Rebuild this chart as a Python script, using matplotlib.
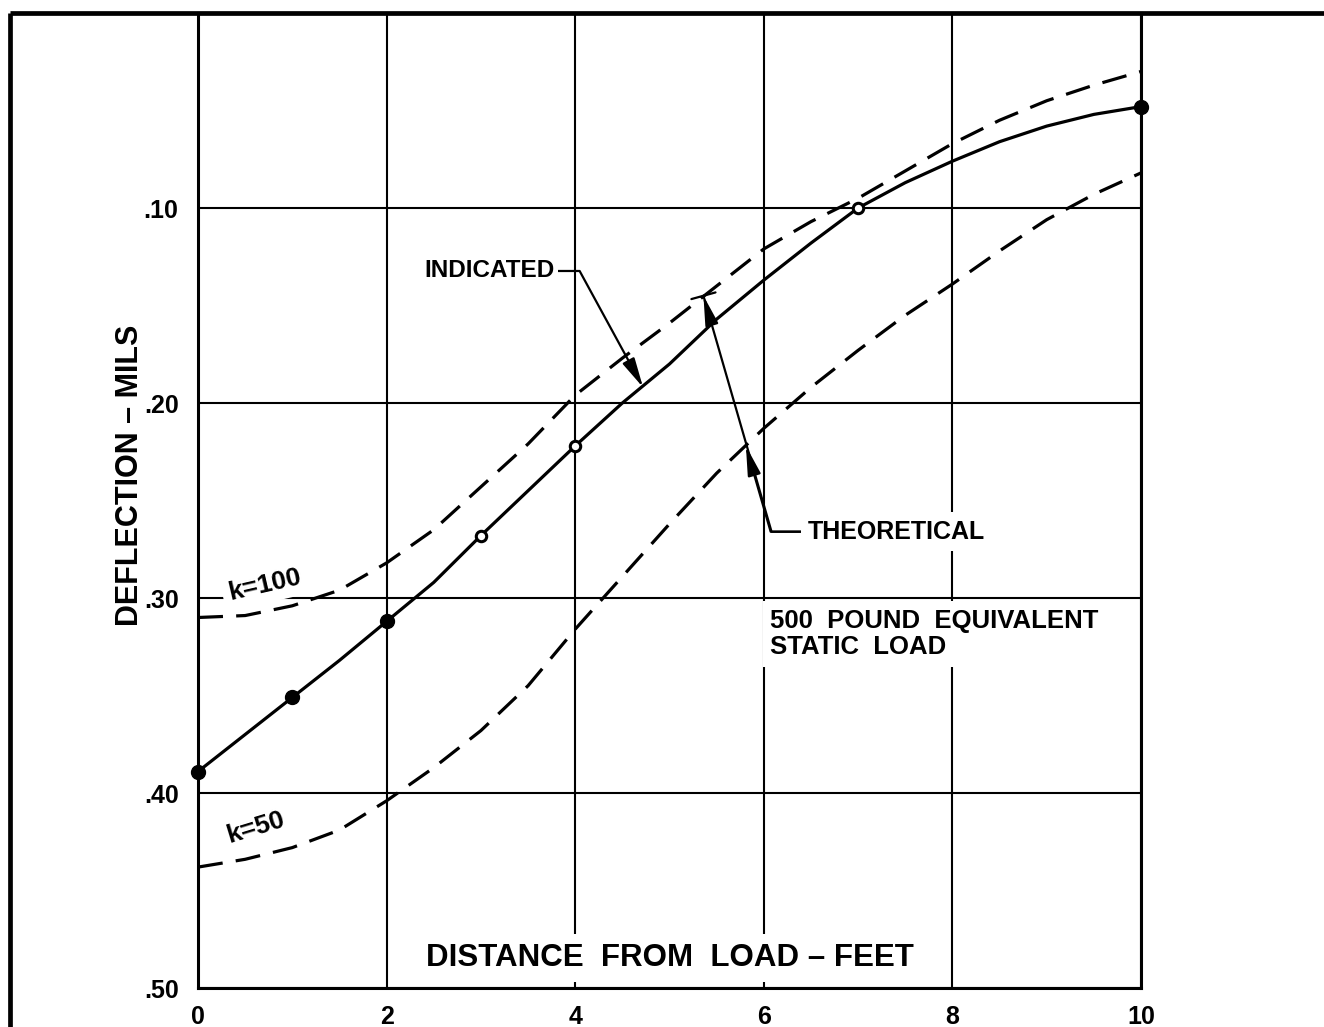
import matplotlib
matplotlib.use("Agg")
import matplotlib.pyplot as plt
from matplotlib.lines import Line2D

plt.rcParams["font.family"] = ["Liberation Sans", "DejaVu Sans"]
plt.rcParams["font.weight"] = "bold"
plt.rcParams["lines.scale_dashes"] = False

# ---- data -------------------------------------------------------------
distance_ft = [0, 0.5, 1, 1.5, 2, 2.5, 3, 3.5, 4, 4.5, 5,
               5.5, 6, 6.5, 7, 7.5, 8, 8.5, 9, 9.5, 10]

indicated = [0.389, 0.370, 0.351, 0.332, 0.312, 0.292, 0.268, 0.245, 0.222, 0.200, 0.180,
             0.157, 0.137, 0.118, 0.100, 0.087, 0.076, 0.066, 0.058, 0.052, 0.048]

theory_k100 = [0.310, 0.309, 0.304, 0.296, 0.282, 0.265, 0.243, 0.221, 0.196, 0.177, 0.159,
               0.140, 0.121, 0.107, 0.095, 0.081, 0.067, 0.055, 0.045, 0.037, 0.030]

theory_k50 = [0.438, 0.434, 0.428, 0.419, 0.404, 0.387, 0.368, 0.345, 0.316, 0.289, 0.262,
              0.236, 0.213, 0.192, 0.173, 0.155, 0.139, 0.122, 0.106, 0.093, 0.082]

measured_x_filled = [0, 1, 2, 10]
measured_y_filled = [0.389, 0.351, 0.312, 0.048]
measured_x_open = [3, 4, 7]
measured_y_open = [0.268, 0.222, 0.100]

x_ticks = [0, 2, 4, 6, 8, 10]
x_tick_labels = ["0", "2", "4", "6", "8", "10"]
y_ticks = [0.10, 0.20, 0.30, 0.40, 0.50]
y_tick_labels = [".10", ".20", ".30", ".40", ".50"]

# ---- figure -----------------------------------------------------------
W, H = 1324, 1027
fig = plt.figure(figsize=(W / 100, H / 100), dpi=100)
fig.patch.set_facecolor("white")

left, right, top, bottom = 198, 1141, 13, 988
ax = fig.add_axes([left / W, 1 - bottom / H, (right - left) / W, (bottom - top) / H])
ax.set_xlim(0, 10)
ax.set_ylim(0.5, 0.0)

# outer drawing border (top and left)
ytop = 1 - top / H
fig.add_artist(Line2D([10 / W, 1.0], [ytop, ytop], color="black", lw=3.4,
                      solid_capstyle="butt"))
fig.add_artist(Line2D([10 / W, 10 / W], [0, ytop], color="black", lw=3.4,
                      solid_capstyle="butt"))

# grid
ax.set_xticks(x_ticks)
ax.set_xticklabels(x_tick_labels)
ax.set_yticks(y_ticks)
ax.set_yticklabels(y_tick_labels)
ax.grid(True, color="black", lw=1.5, zorder=0.5)
ax.set_axisbelow(True)
ax.tick_params(length=0, labelsize=18, pad=14)
ax.tick_params(axis="x", pad=12)
for lab in ax.get_xticklabels() + ax.get_yticklabels():
    lab.set_fontweight("bold")
for side in ["left", "right", "bottom", "top"]:
    ax.spines[side].set_linewidth(2.2)

# curves
ax.plot(distance_ft, indicated, color="black", lw=2.3, zorder=3, clip_on=False)
ax.plot(distance_ft, theory_k100, color="black", lw=2.3, ls=(0, (18, 9.5)),
        zorder=3, clip_on=False)
ax.plot(distance_ft, theory_k50, color="black", lw=2.3, ls=(0, (18, 9.5)),
        zorder=3, clip_on=False)
ax.plot(measured_x_filled, measured_y_filled, ls="none", marker="o", ms=10,
        color="black", zorder=4, clip_on=False)
ax.plot(measured_x_open, measured_y_open, ls="none", marker="o", ms=7.5,
        mfc="white", mec="black", mew=2.2, zorder=4, clip_on=False)

white_box = dict(facecolor="white", edgecolor="none", boxstyle="square,pad=0.3")

# curve labels
ax.text(0.71, 0.293, "k=100", fontsize=19, rotation=13, ha="center", va="center",
        bbox=dict(facecolor="white", edgecolor="none", boxstyle="square,pad=0.25"),
        zorder=2)
ax.text(0.61, 0.418, "k=50", fontsize=19, rotation=17, ha="center", va="center",
        bbox=dict(facecolor="white", edgecolor="none", boxstyle="square,pad=0.05"),
        zorder=2)

arrow_kw = dict(arrowstyle="-|>,head_length=0.9,head_width=0.2", color="black",
                lw=1.6, mutation_scale=20, shrinkA=0, shrinkB=0)

ax.annotate("INDICATED", xy=(4.72, 0.192), xytext=(3.09, 0.1323),
            fontsize=17.5, ha="center", va="center", zorder=5,
            bbox=dict(facecolor="white", edgecolor="none", boxstyle="square,pad=0.15"),
            arrowprops=dict(connectionstyle="angle,angleA=0,angleB=118.6,rad=0",
                            relpos=(1, 0.5), **arrow_kw))

theo_conn = "angle,angleA=0,angleB=-73.9,rad=0"
ax.annotate("THEORETICAL", xy=(5.36, 0.145), xytext=(7.41, 0.266),
            fontsize=18, ha="center", va="center", zorder=5, bbox=white_box,
            arrowprops=dict(connectionstyle=theo_conn, relpos=(0, 0.5), **arrow_kw))
ax.annotate("THEORETICAL", xy=(5.81, 0.222), xytext=(7.41, 0.266),
            fontsize=18, ha="center", va="center", zorder=5, bbox=white_box,
            arrowprops=dict(connectionstyle=theo_conn, relpos=(0, 0.5), **arrow_kw))
# flat bar capping the leader at the k=100 curve
ax.annotate("", xy=(5.36, 0.145), xytext=(5.40, 0.152),
            arrowprops=dict(arrowstyle="-[,widthB=0.45,lengthB=0", color="black",
                            lw=1.6, mutation_scale=20, shrinkA=0, shrinkB=0))

ax.text(6.07, 0.3185, "500  POUND  EQUIVALENT  \nSTATIC  LOAD", fontsize=18.5,
        ha="left", va="center", multialignment="left", linespacing=1.15,
        bbox=dict(facecolor="white", edgecolor="none", boxstyle="square,pad=0.3"),
        zorder=2)

ax.text(5.0, 0.4846, "DISTANCE  FROM  LOAD – FEET", fontsize=22.5,
        ha="center", va="center", bbox=white_box, zorder=2)

fig.text(130 / W, 1 - 475 / H, "DEFLECTION – MILS", fontsize=22, rotation=90,
         ha="center", va="center")

fig.savefig("out.png", dpi=100, facecolor="white")
